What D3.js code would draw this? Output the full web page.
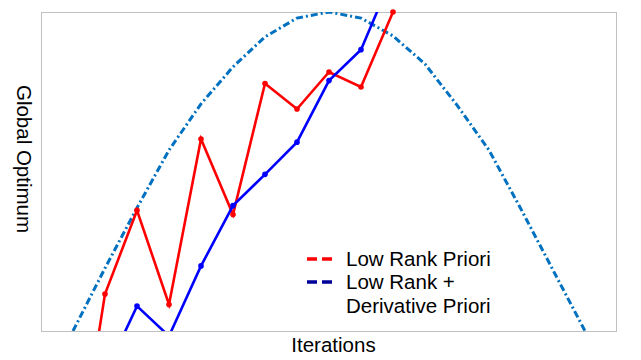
<!DOCTYPE html>
<html>
<head>
<meta charset="utf-8">
<script src="https://cdn.jsdelivr.net/npm/d3@7"></script>
<style>
body { margin: 0; background: #fff; }
text { font-family: "Liberation Sans", Arial, sans-serif; }
</style>
</head>
<body>
<script>
// iteration index of each point
var curveIter = [1,2,3,4,5,6,7,8,9,10,11,12,13,14,15,16,17];
var curveVals = [0,19.7,38.6,56.7,71.2,82.8,92.2,98.1,100,98.1,92.5,83.7,70.8,56.7,38.2,19.1,0];

var redIter = [1,2,3,4,5,6,7,8,9,10,11];
var redVals = [-52,11.6,37.8,8.3,60.2,36.5,77.6,69.6,81.2,76.5,100];

var blueIter = [2,3,4,5,6,7,8,9,10,11];
var blueVals = [-13.6,7.8,-1.6,20.4,39.3,49.1,59.2,78.5,88.2,111.8];

var legendLabels = [["Low Rank Priori"], ["Low Rank +", "Derivative Priori"]];

var W = 641, H = 360;
var pLeft = 41, pRight = 617, pTop = 12, pBottom = 331;

var svg = d3.select("body").append("svg")
	.attr("width", W)
	.attr("height", H);

var x = d3.scaleLinear().domain([0, 18]).range([pLeft, pRight]);
var y = d3.scaleLinear().domain([0, 100]).range([pBottom, pTop]);

svg.append("clipPath").attr("id", "plot")
	.append("rect")
	.attr("x", pLeft).attr("y", pTop)
	.attr("width", pRight - pLeft).attr("height", pBottom - pTop);

// frame
svg.append("rect")
	.attr("x", pLeft + 0.5).attr("y", pTop + 0.5)
	.attr("width", pRight - pLeft - 1).attr("height", pBottom - pTop)
	.attr("fill", "none")
	.attr("stroke", "#c0c0c0")
	.attr("stroke-width", 1);

var g = svg.append("g").attr("clip-path", "url(#plot)");

function pts(xs, vs) {
	return xs.map(function(d, i) { return [d, vs[i]]; });
}

var line = d3.line()
	.x(function(d) { return x(d[0]); })
	.y(function(d) { return y(d[1]); });

g.append("path")
	.datum(pts(curveIter, curveVals))
	.attr("d", line)
	.attr("fill", "none")
	.attr("stroke", "#0070c0")
	.attr("stroke-width", 3)
	.attr("stroke-dasharray", "7,3,2,3");

var series = [
	{ data: pts(redIter, redVals), color: "#ff0000" },
	{ data: pts(blueIter, blueVals), color: "#0000ff" }
];

series.forEach(function(s) {
	g.append("path")
		.datum(s.data)
		.attr("d", line)
		.attr("fill", "none")
		.attr("stroke", s.color)
		.attr("stroke-width", 2.6);
	// markers only where the value sits inside the axis range
	svg.selectAll(null)
		.data(s.data.filter(function(d) { return d[1] >= 0 && d[1] <= 100; }))
		.enter().append("circle")
		.attr("cx", function(d) { return x(d[0]); })
		.attr("cy", function(d) { return y(d[1]); })
		.attr("r", 2.8)
		.attr("fill", s.color);
});

// legend
var legColors = ["#ff0000", "#000099"];
var leg = svg.append("g");
legendLabels.forEach(function(lines, i) {
	var ly = 259 + i * 23;
	leg.append("line")
		.attr("x1", 307).attr("x2", 333)
		.attr("y1", ly).attr("y2", ly)
		.attr("stroke", legColors[i])
		.attr("stroke-width", 3.5)
		.attr("stroke-dasharray", "10,5");
	lines.forEach(function(t, j) {
		leg.append("text")
			.attr("x", 346)
			.attr("y", ly + 6.5 + j * 24.5)
			.attr("font-size", 20.5)
			.attr("fill", "#000")
			.text(t);
	});
});

svg.append("text")
	.attr("x", 333.5)
	.attr("y", 352)
	.attr("text-anchor", "middle")
	.attr("font-size", 20.5)
	.text("Iterations");

svg.append("text")
	.attr("transform", "translate(17,159) rotate(90)")
	.attr("text-anchor", "middle")
	.attr("font-size", 20.5)
	.text("Global Optimum");
</script>
</body>
</html>
